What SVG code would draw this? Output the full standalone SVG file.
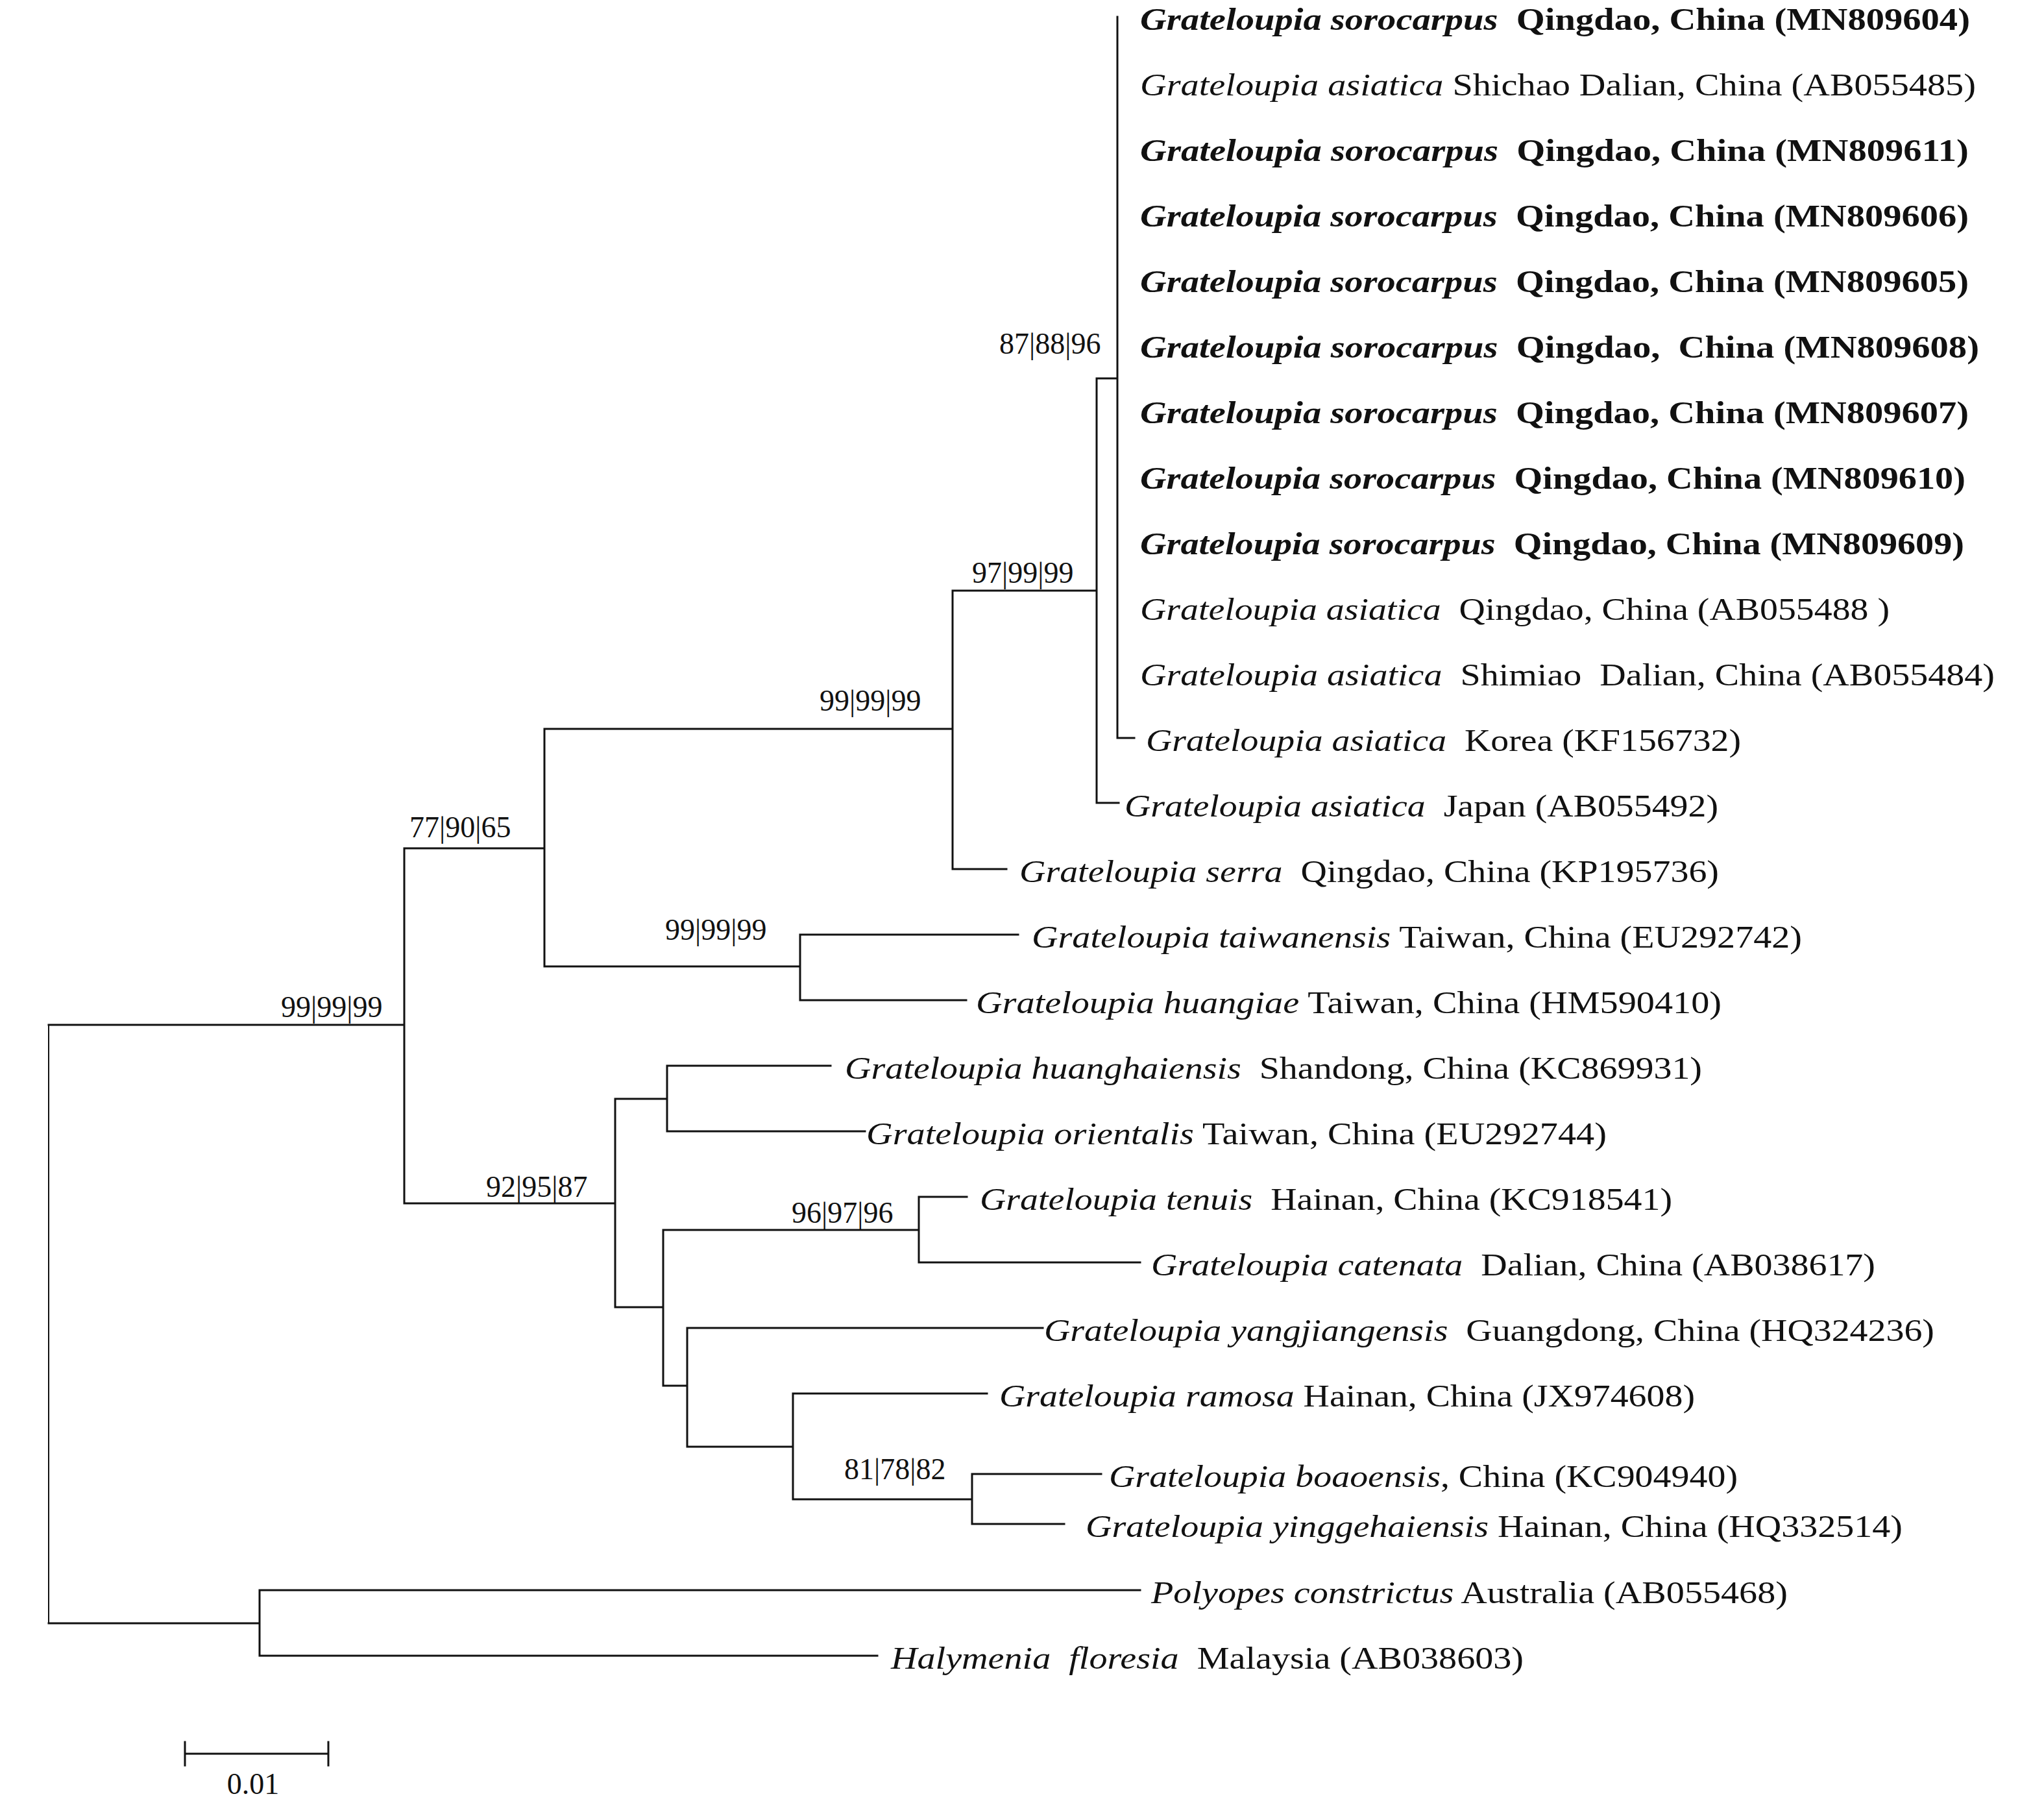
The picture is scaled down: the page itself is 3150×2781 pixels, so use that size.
<svg xmlns="http://www.w3.org/2000/svg" width="3150" height="2781" viewBox="0 0 3150 2781">
<style>
.br{fill:none;stroke:#111;stroke-width:3;stroke-linecap:square}
.thin{fill:none;stroke:#111;stroke-width:2}
.lb{font-family:"Liberation Serif","Times New Roman",serif;font-size:49px;fill:#111}
.bd{font-weight:bold}
.it{font-style:italic}
.bs{font-family:"Liberation Serif","Times New Roman",serif;font-size:46px;fill:#111}
</style>
<rect width="3150" height="2781" fill="#fff"/>
<g id="connectors">
<path class="thin" d="M75,1579V2501"/>
<path class="br" d="M75,1579H623 M75,2501H400
M623,1307V1854 M623,1307H839 M623,1854H948
M839,1123V1489 M839,1123H1468 M839,1489H1233
M1468,910V1339 M1468,910H1690 M1468,1339H1551
M1690,583V1237 M1690,583H1722 M1690,1237H1724
M1722,26V1137 M1722,1137H1748
M1233,1440V1541 M1233,1440H1569 M1233,1541H1489
M948,1693V2014 M948,1693H1028 M948,2014H1022
M1028,1642V1743 M1028,1642H1280 M1028,1743H1333
M1022,1895V2135 M1022,1895H1416 M1022,2135H1059
M1416,1844V1945 M1416,1844H1490 M1416,1945H1757
M1059,2046V2229 M1059,2046H1607 M1059,2229H1222
M1222,2147V2310 M1222,2147H1521 M1222,2310H1498
M1498,2271V2348 M1498,2271H1697 M1498,2348H1640
M400,2450V2551 M400,2450H1757 M400,2551H1352"/>
</g>
<g id="leaf0"><text class="lb bd" x="1757" y="46" textLength="1279" lengthAdjust="spacingAndGlyphs" xml:space="preserve"><tspan class="it">Grateloupia sorocarpus</tspan>  Qingdao, China (MN809604)</text></g>
<g id="leaf1"><text class="lb" x="1757" y="147" textLength="1288" lengthAdjust="spacingAndGlyphs" xml:space="preserve"><tspan class="it">Grateloupia asiatica</tspan> Shichao Dalian, China (AB055485)</text></g>
<g id="leaf2"><text class="lb bd" x="1757" y="248" textLength="1277" lengthAdjust="spacingAndGlyphs" xml:space="preserve"><tspan class="it">Grateloupia sorocarpus</tspan>  Qingdao, China (MN809611)</text></g>
<g id="leaf3"><text class="lb bd" x="1757" y="349" textLength="1277" lengthAdjust="spacingAndGlyphs" xml:space="preserve"><tspan class="it">Grateloupia sorocarpus</tspan>  Qingdao, China (MN809606)</text></g>
<g id="leaf4"><text class="lb bd" x="1757" y="450" textLength="1277" lengthAdjust="spacingAndGlyphs" xml:space="preserve"><tspan class="it">Grateloupia sorocarpus</tspan>  Qingdao, China (MN809605)</text></g>
<g id="leaf5"><text class="lb bd" x="1757" y="551" textLength="1293" lengthAdjust="spacingAndGlyphs" xml:space="preserve"><tspan class="it">Grateloupia sorocarpus</tspan>  Qingdao,  China (MN809608)</text></g>
<g id="leaf6"><text class="lb bd" x="1757" y="652" textLength="1277" lengthAdjust="spacingAndGlyphs" xml:space="preserve"><tspan class="it">Grateloupia sorocarpus</tspan>  Qingdao, China (MN809607)</text></g>
<g id="leaf7"><text class="lb bd" x="1757" y="753" textLength="1272" lengthAdjust="spacingAndGlyphs" xml:space="preserve"><tspan class="it">Grateloupia sorocarpus</tspan>  Qingdao, China (MN809610)</text></g>
<g id="leaf8"><text class="lb bd" x="1757" y="854" textLength="1270" lengthAdjust="spacingAndGlyphs" xml:space="preserve"><tspan class="it">Grateloupia sorocarpus</tspan>  Qingdao, China (MN809609)</text></g>
<g id="leaf9"><text class="lb" x="1757" y="955" textLength="1155" lengthAdjust="spacingAndGlyphs" xml:space="preserve"><tspan class="it">Grateloupia asiatica</tspan>  Qingdao, China (AB055488 )</text></g>
<g id="leaf10"><text class="lb" x="1757" y="1056" textLength="1317" lengthAdjust="spacingAndGlyphs" xml:space="preserve"><tspan class="it">Grateloupia asiatica</tspan>  Shimiao  Dalian, China (AB055484)</text></g>
<g id="leaf11"><text class="lb" x="1766" y="1157" textLength="917" lengthAdjust="spacingAndGlyphs" xml:space="preserve"><tspan class="it">Grateloupia asiatica</tspan>  Korea (KF156732)</text></g>
<g id="leaf12"><text class="lb" x="1733" y="1258" textLength="915" lengthAdjust="spacingAndGlyphs" xml:space="preserve"><tspan class="it">Grateloupia asiatica</tspan>  Japan (AB055492)</text></g>
<g id="leaf13"><text class="lb" x="1571" y="1359" textLength="1078" lengthAdjust="spacingAndGlyphs" xml:space="preserve"><tspan class="it">Grateloupia serra</tspan>  Qingdao, China (KP195736)</text></g>
<g id="leaf14"><text class="lb" x="1590" y="1460" textLength="1187" lengthAdjust="spacingAndGlyphs" xml:space="preserve"><tspan class="it">Grateloupia taiwanensis</tspan> Taiwan, China (EU292742)</text></g>
<g id="leaf15"><text class="lb" x="1504" y="1561" textLength="1149" lengthAdjust="spacingAndGlyphs" xml:space="preserve"><tspan class="it">Grateloupia huangiae</tspan> Taiwan, China (HM590410)</text></g>
<g id="leaf16"><text class="lb" x="1302" y="1662" textLength="1321" lengthAdjust="spacingAndGlyphs" xml:space="preserve"><tspan class="it">Grateloupia huanghaiensis</tspan>  Shandong, China (KC869931)</text></g>
<g id="leaf17"><text class="lb" x="1335" y="1763" textLength="1141" lengthAdjust="spacingAndGlyphs" xml:space="preserve"><tspan class="it">Grateloupia orientalis</tspan> Taiwan, China (EU292744)</text></g>
<g id="leaf18"><text class="lb" x="1510" y="1864" textLength="1067" lengthAdjust="spacingAndGlyphs" xml:space="preserve"><tspan class="it">Grateloupia tenuis</tspan>  Hainan, China (KC918541)</text></g>
<g id="leaf19"><text class="lb" x="1774" y="1965" textLength="1116" lengthAdjust="spacingAndGlyphs" xml:space="preserve"><tspan class="it">Grateloupia catenata</tspan>  Dalian, China (AB038617)</text></g>
<g id="leaf20"><text class="lb" x="1609" y="2066" textLength="1372" lengthAdjust="spacingAndGlyphs" xml:space="preserve"><tspan class="it">Grateloupia yangjiangensis</tspan>  Guangdong, China (HQ324236)</text></g>
<g id="leaf21"><text class="lb" x="1540" y="2167" textLength="1072" lengthAdjust="spacingAndGlyphs" xml:space="preserve"><tspan class="it">Grateloupia ramosa</tspan> Hainan, China (JX974608)</text></g>
<g id="leaf22"><text class="lb" x="1709" y="2291" textLength="969" lengthAdjust="spacingAndGlyphs" xml:space="preserve"><tspan class="it">Grateloupia boaoensis</tspan>, China (KC904940)</text></g>
<g id="leaf23"><text class="lb" x="1673" y="2368" textLength="1259" lengthAdjust="spacingAndGlyphs" xml:space="preserve"><tspan class="it">Grateloupia yinggehaiensis</tspan> Hainan, China (HQ332514)</text></g>
<g id="leaf24"><text class="lb" x="1774" y="2470" textLength="981" lengthAdjust="spacingAndGlyphs" xml:space="preserve"><tspan class="it">Polyopes constrictus</tspan> Australia (AB055468)</text></g>
<g id="leaf25"><text class="lb" x="1373" y="2571" textLength="975" lengthAdjust="spacingAndGlyphs" xml:space="preserve"><tspan class="it">Halymenia  floresia</tspan>  Malaysia (AB038603)</text></g>
<g id="node-support">
<text class="bs" x="1540" y="545">87|88|96</text>
<text class="bs" x="1498" y="898">97|99|99</text>
<text class="bs" x="1263" y="1095">99|99|99</text>
<text class="bs" x="631" y="1290">77|90|65</text>
<text class="bs" x="1025" y="1448">99|99|99</text>
<text class="bs" x="433" y="1567">99|99|99</text>
<text class="bs" x="749" y="1844">92|95|87</text>
<text class="bs" x="1220" y="1884">96|97|96</text>
<text class="bs" x="1301" y="2279">81|78|82</text>
</g>
<g id="scale-bar">
<path class="br" d="M285,2702H506 M285,2684V2720 M506,2684V2720"/>
<text class="bs" x="390" y="2764" text-anchor="middle">0.01</text>
</g>
</svg>
